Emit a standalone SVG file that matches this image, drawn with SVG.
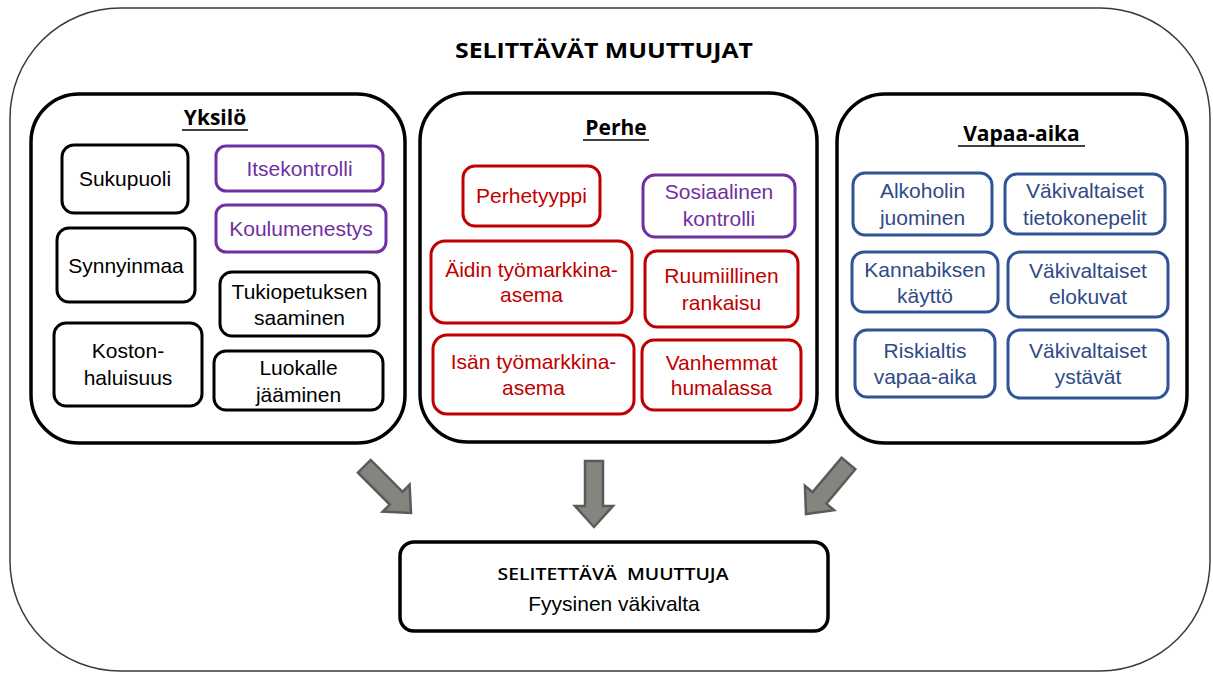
<svg xmlns="http://www.w3.org/2000/svg" width="1213" height="673" viewBox="0 0 1213 673">
<style>
.outer{fill:#fff;stroke:#3a3a3a;stroke-width:1.5}
.sec{fill:#fff;stroke:#000;stroke-width:3.5}
.bk{fill:#fff;stroke:#000;stroke-width:3}
.pu{fill:#fff;stroke:#7030A0;stroke-width:3}
.rd{fill:#fff;stroke:#C00000;stroke-width:3}
.bl{fill:#fff;stroke:#2F5597;stroke-width:3}
text{font-family:"Liberation Sans",Arial,sans-serif;font-size:21px;text-anchor:middle}
.tk{fill:#000}
.tp{fill:#7030A0}
.tr{fill:#C00000}
.tb{fill:#2F4A85}
.head{font-family:"Open Sans","Liberation Sans",sans-serif;font-weight:bold}
.ul{stroke:#000;stroke-width:1.5}
.arr{fill:#858580;stroke:#5a5a5a;stroke-width:2.5;stroke-linejoin:miter}
</style>
<defs>
<path id="arrow" d="M -9,-66 L 9,-66 L 9,-21 L 19,-21 L 0,0 L -19,-21 L -9,-21 Z"/>
</defs>
<rect class="outer" x="10" y="8" width="1200" height="663" rx="110"/>
<text class="head" x="604" y="58" font-size="27" textLength="298" lengthAdjust="spacingAndGlyphs">SELITTÄVÄT MUUTTUJAT</text>

<g id="yksilo">
<rect class="sec" x="31" y="94" width="374" height="349" rx="48"/>
<text class="head" x="215" y="125" font-size="22">Yksilö</text>
<line class="ul" x1="182" y1="130" x2="248" y2="130"/>
</g>
<g id="sukupuoli"><rect class="bk" x="62" y="145" width="126" height="68" rx="12"/><text class="tk" x="125" y="186">Sukupuoli</text></g>
<g id="itsekontrolli"><rect class="pu" x="216" y="146" width="167" height="45" rx="10"/><text class="tp" x="299.5" y="176">Itsekontrolli</text></g>
<g id="koulumenestys"><rect class="pu" x="216" y="205" width="170" height="47" rx="10"/><text class="tp" x="301" y="236">Koulumenestys</text></g>
<g id="synnyinmaa"><rect class="bk" x="57" y="228" width="138" height="74" rx="12"/><text class="tk" x="126" y="273">Synnyinmaa</text></g>
<g id="tukiopetus"><rect class="bk" x="220" y="272" width="159" height="64" rx="12"/><text class="tk" x="299.5" y="299">Tukiopetuksen</text><text class="tk" x="299.5" y="325">saaminen</text></g>
<g id="kostonhaluisuus"><rect class="bk" x="54" y="323" width="148" height="83" rx="12"/><text class="tk" x="128" y="358">Koston-</text><text class="tk" x="128" y="385">haluisuus</text></g>
<g id="luokalle"><rect class="bk" x="214" y="351" width="169" height="59" rx="12"/><text class="tk" x="298.5" y="375">Luokalle</text><text class="tk" x="298.5" y="402">jääminen</text></g>

<g id="perhe">
<rect class="sec" x="420" y="93" width="397" height="349" rx="48"/>
<text class="head" x="616" y="135" font-size="22">Perhe</text>
<line class="ul" x1="583" y1="140" x2="649" y2="140"/>
</g>
<g id="perhetyyppi"><rect class="rd" x="463" y="166" width="137" height="60" rx="12"/><text class="tr" x="531.5" y="203">Perhetyyppi</text></g>
<g id="sosiaalinen"><rect class="pu" x="643" y="175" width="152" height="62" rx="12"/><text class="tp" x="719" y="199">Sosiaalinen</text><text class="tp" x="719" y="226">kontrolli</text></g>
<g id="aidin"><rect class="rd" x="431" y="241" width="201" height="82" rx="14"/><text class="tr" x="531.5" y="277">Äidin työmarkkina-</text><text class="tr" x="531.5" y="302">asema</text></g>
<g id="ruumiillinen"><rect class="rd" x="645" y="251" width="153" height="76" rx="12"/><text class="tr" x="721.5" y="283">Ruumiillinen</text><text class="tr" x="721.5" y="310">rankaisu</text></g>
<g id="isan"><rect class="rd" x="433" y="335" width="201" height="79" rx="14"/><text class="tr" x="533.5" y="369">Isän työmarkkina-</text><text class="tr" x="533.5" y="395">asema</text></g>
<g id="vanhemmat"><rect class="rd" x="642" y="340" width="159" height="70" rx="12"/><text class="tr" x="721.5" y="370">Vanhemmat</text><text class="tr" x="721.5" y="395">humalassa</text></g>

<g id="vapaa-aika">
<rect class="sec" x="837" y="94" width="350" height="349" rx="48"/>
<text class="head" x="1021.5" y="141" font-size="22">Vapaa-aika</text>
<line class="ul" x1="958" y1="146" x2="1085" y2="146"/>
</g>
<g id="alkoholi"><rect class="bl" x="853" y="173" width="139" height="62" rx="12"/><text class="tb" x="922.5" y="198">Alkoholin</text><text class="tb" x="922.5" y="225">juominen</text></g>
<g id="tietokonepelit"><rect class="bl" x="1005" y="174" width="160" height="60" rx="12"/><text class="tb" x="1085" y="198">Väkivaltaiset</text><text class="tb" x="1085" y="225">tietokonepelit</text></g>
<g id="kannabis"><rect class="bl" x="852" y="252" width="146" height="60" rx="12"/><text class="tb" x="925" y="277">Kannabiksen</text><text class="tb" x="925" y="303">käyttö</text></g>
<g id="elokuvat"><rect class="bl" x="1008" y="252" width="160" height="65" rx="12"/><text class="tb" x="1088" y="278">Väkivaltaiset</text><text class="tb" x="1088" y="304">elokuvat</text></g>
<g id="riskialtis"><rect class="bl" x="855" y="330" width="140" height="67" rx="12"/><text class="tb" x="925" y="358">Riskialtis</text><text class="tb" x="925" y="384">vapaa-aika</text></g>
<g id="ystavat"><rect class="bl" x="1008" y="330" width="160" height="68" rx="12"/><text class="tb" x="1088" y="358">Väkivaltaiset</text><text class="tb" x="1088" y="384">ystävät</text></g>

<g id="connectors">
<use href="#arrow" class="arr" transform="translate(411,513) rotate(-45)"/>
<use href="#arrow" class="arr" transform="translate(594,527)"/>
<use href="#arrow" class="arr" transform="translate(806,514) rotate(40)"/>
</g>

<g id="selitettava">
<rect class="sec" x="400" y="542" width="428" height="89" rx="14"/>
<text x="613" y="580" xml:space="preserve" textLength="231" lengthAdjust="spacingAndGlyphs" style="font-family:'Open Sans','Liberation Sans',sans-serif;font-size:17px;font-weight:600;white-space:pre">SELITETTÄVÄ  MUUTTUJA</text>
<text class="tk" x="614" y="611">Fyysinen väkivalta</text>
</g>
</svg>
